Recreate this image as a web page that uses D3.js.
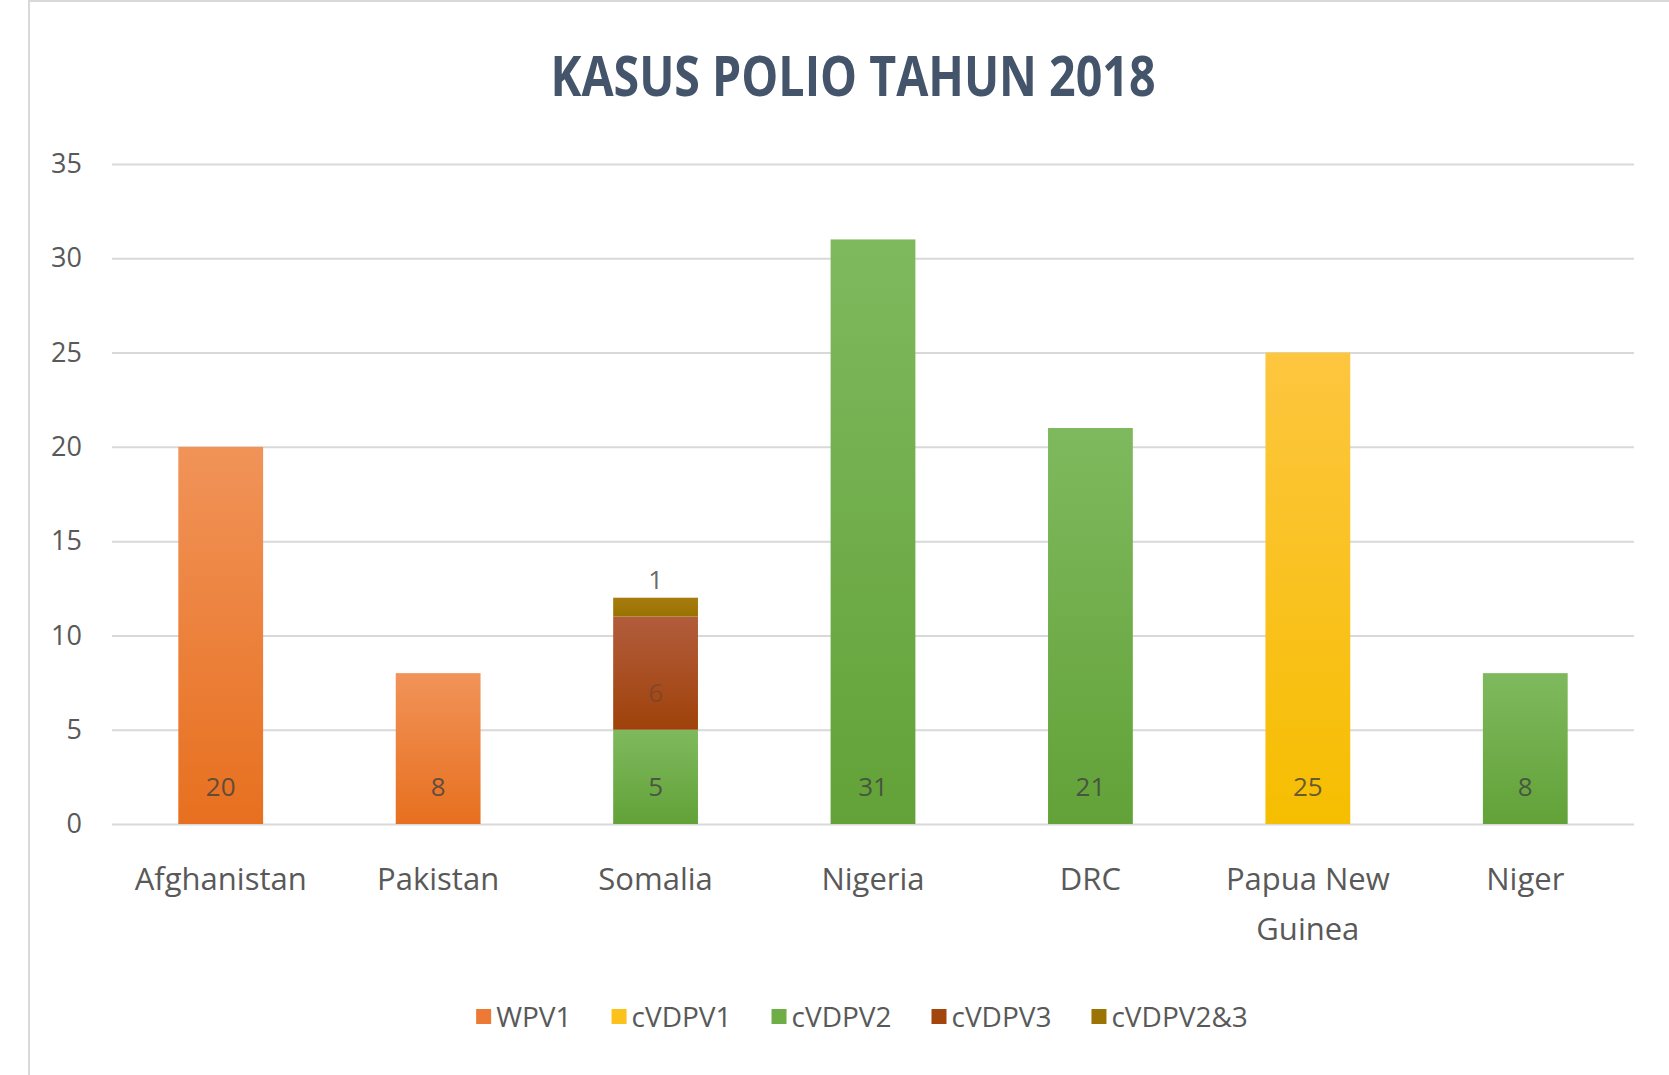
<!DOCTYPE html>
<html>
<head>
<meta charset="utf-8">
<script src="https://cdn.jsdelivr.net/npm/d3@7"></script>
<style>
  html, body { margin: 0; padding: 0; background: #fff; }
  svg { display: block; }
</style>
</head>
<body>
<script>
// data
const countries = ["Afghanistan", "Pakistan", "Somalia", "Nigeria", "DRC", "Papua New Guinea", "Niger"];
const seriesNames = ["WPV1", "cVDPV1", "cVDPV2", "cVDPV3", "cVDPV2&3"];
const wpv1    = [20, 8, 0, 0, 0, 0, 0];
const cvdpv1  = [0, 0, 0, 0, 0, 25, 0];
const cvdpv2  = [0, 0, 5, 31, 21, 0, 8];
const cvdpv3  = [0, 0, 6, 0, 0, 0, 0];
const cvdpv23 = [0, 0, 1, 0, 0, 0, 0];
const yTicks = [0, 5, 10, 15, 20, 25, 30, 35];

const width = 1669;
const height = 1075;
const font = "'Open Sans', 'DejaVu Sans', sans-serif";

// colours: [top, bottom] of the office style gradient
const colors = {
  "WPV1":     ["#F19359", "#E7701F"],
  "cVDPV1":   ["#FDC63F", "#F6BE00"],
  "cVDPV2":   ["#7FB95E", "#62A238"],
  "cVDPV3":   ["#B25C3C", "#9F420A"],
  "cVDPV2&3": ["#A67C10", "#9A7200"]
};
const swatch = {
  "WPV1": "#EC7A34", "cVDPV1": "#FCC11A", "cVDPV2": "#6FAD47", "cVDPV3": "#A2460E", "cVDPV2&3": "#9C7406"
};

const table = countries.map((c, i) => ({
  country: c,
  "WPV1": wpv1[i], "cVDPV1": cvdpv1[i], "cVDPV2": cvdpv2[i], "cVDPV3": cvdpv3[i], "cVDPV2&3": cvdpv23[i]
}));

const svg = d3.select("body").append("svg")
    .attr("width", width)
    .attr("height", height)
    .attr("viewBox", [0, 0, width, height]);

// gradients
const defs = svg.append("defs");
seriesNames.forEach((s, i) => {
  const g = defs.append("linearGradient")
      .attr("id", "grad" + i)
      .attr("x1", 0).attr("y1", 0).attr("x2", 0).attr("y2", 1);
  g.append("stop").attr("offset", "0%").attr("stop-color", colors[s][0]);
  g.append("stop").attr("offset", "100%").attr("stop-color", colors[s][1]);
});

// chart frame (left and top edge visible)
svg.append("rect")
    .attr("x", 29).attr("y", 1)
    .attr("width", 1660).attr("height", 1100)
    .attr("fill", "#fff")
    .attr("stroke", "#D9D9D9")
    .attr("stroke-width", 2);

const x = d3.scaleBand()
    .domain(countries)
    .range([112, 1634])
    .paddingInner(0.61)
    .paddingOuter(0.305);

const y = d3.scaleLinear()
    .domain([0, 35])
    .range([824, 164]);

// title
svg.append("text")
    .attr("x", 853).attr("y", 76)
    .attr("dy", "0.36em")
    .attr("text-anchor", "middle")
    .attr("font-family", font)
    .attr("font-weight", "bold")
    .attr("font-size", 55)
    .attr("fill", "#44546A")
    .attr("textLength", 605)
    .attr("lengthAdjust", "spacingAndGlyphs")
    .text("KASUS POLIO TAHUN 2018");

// gridlines + y axis
const yAxis = svg.append("g")
    .attr("transform", "translate(112,0)")
    .call(d3.axisLeft(y).tickValues(yTicks).tickSize(-(1634 - 112)).tickPadding(30));
yAxis.select(".domain").remove();
yAxis.selectAll(".tick line").attr("stroke", "#D9D9D9").attr("stroke-width", 2);
yAxis.selectAll(".tick text")
    .attr("font-family", font)
    .attr("font-size", 27)
    .attr("fill", "#595959");

// bars
const stacked = d3.stack().keys(seriesNames)(table);

const layer = svg.append("g").selectAll("g")
  .data(stacked)
  .join("g")
    .attr("fill", (d, i) => `url(#grad${i})`);

layer.selectAll("rect")
  .data(d => d.filter(v => v[1] - v[0] > 0))
  .join("rect")
    .attr("x", d => x(d.data.country))
    .attr("width", x.bandwidth())
    .attr("y", d => y(d[1]))
    .attr("height", d => y(d[0]) - y(d[1]));

// data labels at inside base of each segment
const labels = [];
stacked.forEach(s => s.forEach(v => {
  if (v[1] - v[0] > 0) labels.push({country: v.data.country, base: v[0], value: v[1] - v[0]});
}));

svg.append("g").selectAll("text")
  .data(labels)
  .join("text")
    .attr("x", d => x(d.country) + x.bandwidth() / 2)
    .attr("y", d => y(d.base) - 37)
    .attr("dy", "0.36em")
    .attr("text-anchor", "middle")
    .attr("font-family", font)
    .attr("font-size", 26)
    .attr("fill", "#404040")
    .attr("fill-opacity", d => d.base > 0 && d.value > 1 ? 0.35 : 0.8)
    .text(d => d.value);

// category labels, wrapped on band step
const xAxis = svg.append("g")
  .selectAll("text")
  .data(countries)
  .join("text")
    .attr("x", d => x(d) + x.bandwidth() / 2)
    .attr("y", 879)
    .attr("dy", "0.36em")
    .attr("text-anchor", "middle")
    .attr("font-family", font)
    .attr("font-size", 31)
    .attr("fill", "#595959")
    .each(function(d) {
      const t = d3.select(this);
      const words = d.split(" ");
      let line = [];
      let tspan = t.append("tspan").attr("x", t.attr("x"));
      words.forEach(w => {
        line.push(w);
        tspan.text(line.join(" "));
        if (tspan.node().getComputedTextLength() > x.step() * 0.95 && line.length > 1) {
          line.pop();
          tspan.text(line.join(" "));
          line = [w];
          tspan = t.append("tspan").attr("x", t.attr("x")).attr("dy", 50).text(w);
        }
      });
    });

// legend
const legend = svg.append("g");
let lx = 0;
seriesNames.forEach(s => {
  const item = legend.append("g").attr("transform", `translate(${lx},0)`);
  item.append("rect")
      .attr("x", 0).attr("y", -8)
      .attr("width", 15).attr("height", 15)
      .attr("fill", swatch[s]);
  const t = item.append("text")
      .attr("x", 20).attr("y", 0)
      .attr("dy", "0.36em")
      .attr("font-family", font)
      .attr("font-size", 28)
      .attr("fill", "#595959")
      .text(s);
  lx += 20 + t.node().getComputedTextLength() + 40;
});
const legendW = lx - 40;
legend.attr("transform", `translate(${862 - legendW / 2},1017)`);
</script>
</body>
</html>
